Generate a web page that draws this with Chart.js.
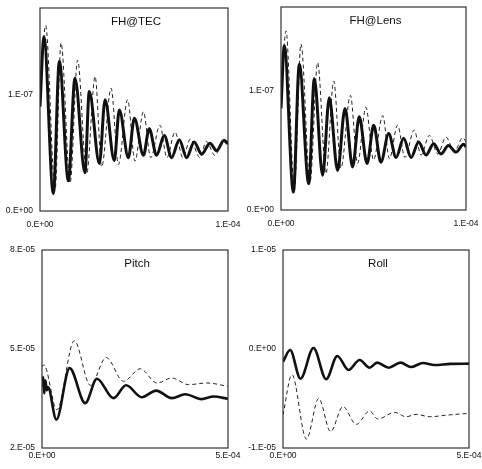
<!DOCTYPE html>
<html>
<head>
<meta charset="utf-8">
<script src="https://cdn.jsdelivr.net/npm/chart.js@4.4.1/dist/chart.umd.min.js"></script>
<style>
    html, body { margin: 0; padding: 0; background: #fff; }
    #page { position: relative; width: 482px; height: 469px; }
    .panel { position: absolute; }
</style>
</head>
<body>
<div id="page">
    <div class="panel" style="left:0px;top:0px;width:241px;height:235px"><canvas id="tecChart"></canvas></div>
    <div class="panel" style="left:241px;top:0px;width:241px;height:235px"><canvas id="lensChart"></canvas></div>
    <div class="panel" style="left:0px;top:235px;width:241px;height:234px"><canvas id="pitchChart"></canvas></div>
    <div class="panel" style="left:241px;top:235px;width:241px;height:234px"><canvas id="rollChart"></canvas></div>
</div>
<script>
// Panel titles
const titles = ['FH@TEC', 'FH@Lens', 'Pitch', 'Roll'];

// FH@TEC  (time in microseconds, value in 1E-07)
const tecSolidT = [0, 2.1, 7.1, 10.3, 15.1, 18.6, 23.9, 26.2, 31.6, 34.6, 39.5, 42.2, 47.0, 50.2, 55.0, 58.1, 62.0, 66.1, 70.0, 74.1, 78.0, 82.0, 86.0, 90.4, 94.0, 97.9, 100];
const tecSolidV = [0.90, 1.50, 0.15, 1.29, 0.26, 1.145, 0.33, 1.03, 0.41, 0.96, 0.435, 0.87, 0.46, 0.80, 0.48, 0.71, 0.48, 0.65, 0.46, 0.615, 0.46, 0.595, 0.49, 0.585, 0.52, 0.61, 0.58];
const tecDashT = [0, 3.0, 8.0, 11.2, 16.0, 20.0, 24.8, 29.3, 32.8, 37.8, 41.7, 46.6, 50.5, 55.0, 58.9, 63.8, 67.5, 71.8, 76.0, 80.0, 85.0, 88.5, 93.0, 97.5, 100];
const tecDashV = [1.00, 1.60, 0.18, 1.45, 0.24, 1.30, 0.32, 1.16, 0.38, 1.06, 0.40, 0.96, 0.43, 0.855, 0.46, 0.74, 0.46, 0.68, 0.46, 0.62, 0.46, 0.60, 0.48, 0.60, 0.56];

// FH@Lens  (time in microseconds, value in 1E-07)
const lensSolidT = [0, 1.8, 6.7, 9.9, 15.0, 18.0, 22.5, 26.1, 30.6, 34.6, 38.7, 42.3, 46.5, 50.1, 54.0, 58.2, 62.2, 66.3, 70.3, 74.4, 78.4, 82.5, 86.5, 90.5, 94.6, 98.7, 100];
const lensSolidV = [0.85, 1.375, 0.15, 1.22, 0.22, 1.10, 0.29, 0.94, 0.33, 0.85, 0.36, 0.78, 0.39, 0.71, 0.40, 0.64, 0.44, 0.60, 0.44, 0.57, 0.46, 0.555, 0.47, 0.54, 0.485, 0.55, 0.53];
const lensDashT = [0, 2.7, 7.2, 10.8, 15.7, 19.8, 24.3, 28.5, 32.4, 37.5, 41.4, 45.9, 50.0, 55.0, 58.6, 63.0, 67.0, 72.0, 75.7, 80.2, 84.7, 89.2, 93.7, 98.2, 100];
const lensDashV = [0.95, 1.50, 0.17, 1.39, 0.235, 1.235, 0.305, 1.08, 0.35, 0.96, 0.39, 0.86, 0.42, 0.79, 0.43, 0.71, 0.44, 0.67, 0.46, 0.625, 0.47, 0.61, 0.49, 0.605, 0.57];

// Pitch  (time in 1E-04, value in 1E-05)
const pitchSolidT = [0, 0.03, 0.06, 0.09, 0.13, 0.16, 0.385, 0.742, 1.163, 1.476, 1.92, 2.26, 2.68, 3.07, 3.49, 3.85, 4.29, 4.61, 5.0];
const pitchSolidV = [3.85, 4.15, 3.65, 4.05, 3.75, 3.85, 2.86, 4.42, 3.36, 4.10, 3.51, 3.90, 3.54, 3.74, 3.51, 3.63, 3.48, 3.56, 3.49];
const pitchDashT = [0, 0.05, 0.40, 0.868, 1.30, 1.726, 2.19, 2.64, 3.09, 3.49, 3.94, 4.43, 5.0];
const pitchDashV = [4.45, 4.52, 3.16, 5.25, 3.90, 4.74, 4.02, 4.40, 3.97, 4.12, 3.92, 3.97, 3.87];

// Roll  (time in 1E-04, value in 1E-06)
const rollSolidT = [0, 0.19, 0.47, 0.82, 1.16, 1.46, 1.76, 2.06, 2.33, 2.53, 2.84, 3.16, 3.44, 3.76, 4.07, 4.5, 5.0];
const rollSolidV = [-1.3, -0.1, -3.0, 0.1, -3.05, -0.7, -2.12, -1.11, -1.89, -1.38, -1.89, -1.38, -1.82, -1.41, -1.62, -1.5, -1.48];
const rollDashT = [0, 0.24, 0.63, 0.96, 1.28, 1.61, 1.97, 2.33, 2.55, 3.0, 3.31, 3.58, 3.94, 4.43, 5.0];
const rollDashV = [-6.67, -2.6, -9.1, -5.0, -8.35, -5.82, -7.61, -6.26, -7.07, -6.40, -6.84, -6.60, -6.84, -6.67, -6.50];

// Axis ranges and tick labels
const topXTicks = [0, 100];
const topXLabels = ['0.E+00', '1.E-04'];
const tecYMax = 1.75;
const lensYMax = 1.70;
const topYTicks = [0, 1];
const topYLabels = ['0.E+00', '1.E-07'];

const bottomXTicks = [0, 5];
const bottomXLabels = ['0.E+00', '5.E-04'];
const pitchYTicks = [2, 5, 8];
const pitchYLabels = ['2.E-05', '5.E-05', '8.E-05'];
const rollYTicks = [-10, 0, 10];
const rollYLabels = ['-1.E-05', '0.E+00', '1.E-05'];

const FONT = "'Liberation Sans', Arial, sans-serif";

// Draw the frame and the title inside the plot area
const framePlugin = {
    id: 'frameAndTitle',
    afterDraw(chart, args, opts) {
        const { ctx, chartArea } = chart;
        ctx.save();
        ctx.strokeStyle = '#333';
        ctx.lineWidth = 1.2;
        ctx.strokeRect(chartArea.left, chartArea.top, chartArea.right - chartArea.left, chartArea.bottom - chartArea.top);
        ctx.fillStyle = '#111';
        ctx.font = '11.5px ' + FONT;
        ctx.textAlign = 'center';
        ctx.textBaseline = 'middle';
        ctx.fillText(opts.text, (chartArea.left + chartArea.right) / 2 + 2, chartArea.top + 14);
        ctx.restore();
    }
};

function toPoints(ts, vs) {
    return ts.map((t, i) => ({ x: t, y: vs[i] }));
}

function fixedTicks(values, labels) {
    return {
        afterBuildTicks: (scale) => { scale.ticks = values.map(v => ({ value: v })); },
        callback: (value) => labels[values.indexOf(value)]
    };
}

function makeChart(id, cfg) {
    const xt = fixedTicks(cfg.xTicks, cfg.xLabels);
    const yt = fixedTicks(cfg.yTicks, cfg.yLabels);
    return new Chart(document.getElementById(id), {
        type: 'line',
        data: {
            datasets: [
                {
                    data: toPoints(cfg.solidT, cfg.solidV),
                    borderColor: '#111',
                    borderWidth: cfg.solidWidth,
                    pointRadius: 0,
                    cubicInterpolationMode: 'monotone'
                },
                {
                    data: toPoints(cfg.dashT, cfg.dashV),
                    borderColor: '#222',
                    borderWidth: 1,
                    borderDash: [4, 3],
                    pointRadius: 0,
                    cubicInterpolationMode: 'monotone'
                }
            ]
        },
        plugins: [framePlugin],
        options: {
            responsive: true,
            maintainAspectRatio: false,
            animation: false,
            layout: { padding: { top: cfg.padTop, right: cfg.padRight, left: 0, bottom: 0 } },
            plugins: {
                legend: { display: false },
                tooltip: { enabled: false },
                frameAndTitle: { text: cfg.title }
            },
            scales: {
                x: {
                    type: 'linear',
                    min: cfg.xTicks[0],
                    max: cfg.xTicks[cfg.xTicks.length - 1],
                    afterBuildTicks: xt.afterBuildTicks,
                    afterFit: (scale) => {
                        scale.height = cfg.xHeight;
                        scale.paddingLeft = 0;
                        scale.paddingRight = 0;
                    },
                    grid: { display: false, drawTicks: false },
                    border: { display: false },
                    ticks: {
                        callback: xt.callback,
                        autoSkip: false,
                        maxRotation: 0,
                        padding: cfg.xPad,
                        color: '#111',
                        font: { family: FONT, size: 8.5 }
                    }
                },
                y: {
                    type: 'linear',
                    min: cfg.yMin,
                    max: cfg.yMax,
                    afterBuildTicks: yt.afterBuildTicks,
                    afterFit: (scale) => {
                        scale.width = cfg.yWidth;
                        scale.paddingTop = 0;
                        scale.paddingBottom = 0;
                    },
                    grid: { display: false, drawTicks: false },
                    border: { display: false },
                    ticks: {
                        callback: yt.callback,
                        autoSkip: false,
                        padding: 7,
                        color: '#111',
                        font: { family: FONT, size: 8.5 }
                    }
                }
            }
        }
    });
}

makeChart('tecChart', {
    title: titles[0], solidT: tecSolidT, solidV: tecSolidV, dashT: tecDashT, dashV: tecDashV,
    xTicks: topXTicks, xLabels: topXLabels, yTicks: topYTicks, yLabels: topYLabels,
    yMin: 0, yMax: tecYMax, solidWidth: 3,
    padTop: 8, padRight: 13, yWidth: 40, xHeight: 24, xPad: 9
});
makeChart('lensChart', {
    title: titles[1], solidT: lensSolidT, solidV: lensSolidV, dashT: lensDashT, dashV: lensDashV,
    xTicks: topXTicks, xLabels: topXLabels, yTicks: topYTicks, yLabels: topYLabels,
    yMin: 0, yMax: lensYMax, solidWidth: 3,
    padTop: 7, padRight: 16, yWidth: 40, xHeight: 25, xPad: 9
});
makeChart('pitchChart', {
    title: titles[2], solidT: pitchSolidT, solidV: pitchSolidV, dashT: pitchDashT, dashV: pitchDashV,
    xTicks: bottomXTicks, xLabels: bottomXLabels, yTicks: pitchYTicks, yLabels: pitchYLabels,
    yMin: 2, yMax: 8, solidWidth: 2.6,
    padTop: 15, padRight: 13, yWidth: 42, xHeight: 21, xPad: 3
});
makeChart('rollChart', {
    title: titles[3], solidT: rollSolidT, solidV: rollSolidV, dashT: rollDashT, dashV: rollDashV,
    xTicks: bottomXTicks, xLabels: bottomXLabels, yTicks: rollYTicks, yLabels: rollYLabels,
    yMin: -10, yMax: 10, solidWidth: 2.6,
    padTop: 15, padRight: 13, yWidth: 42, xHeight: 21, xPad: 3
});
</script>
</body>
</html>
